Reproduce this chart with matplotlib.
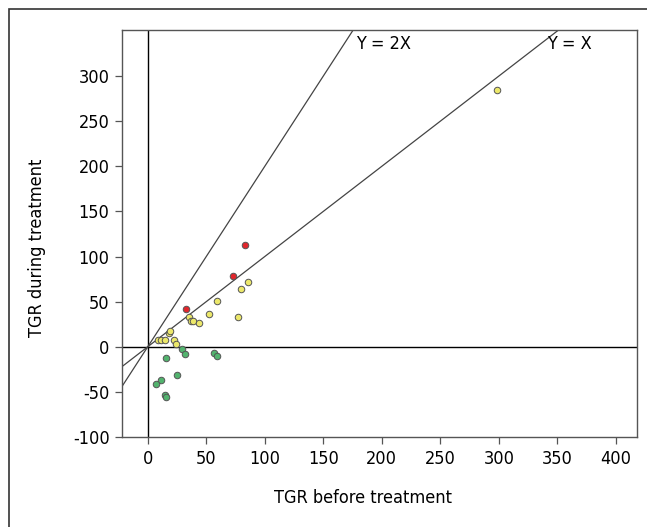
import matplotlib
matplotlib.use("Agg")
import matplotlib.pyplot as plt
from matplotlib.patches import Rectangle

# Data: (TGR before, TGR during)
red_x = [83, 73, 33]
red_y = [113, 78, 42]
yellow_x = [86, 80, 59, 77, 52, 35, 37, 39, 44, 18, 19, 9, 11, 15, 22, 24, 298]
yellow_y = [72, 64, 51, 33, 36, 33, 29, 29, 26, 15, 18, 8, 7, 8, 7, 3, 285]
green_x = [29, 32, 57, 59, 16, 25, 11, 7, 15, 16]
green_y = [-2, -8, -7, -10, -13, -31, -37, -41, -53, -56]

x_ticks = [0, 50, 100, 150, 200, 250, 300, 350, 400]
y_ticks = [-100, -50, 0, 50, 100, 150, 200, 250, 300]
slopes = [2, 1]
slope_labels = ["Y = 2X", "Y = X"]
slope_label_x = [178, 341]

plt.rcParams["font.family"] = ["DejaVu Sans"]
plt.rcParams["font.stretch"] = "condensed"
plt.rcParams["axes.unicode_minus"] = False

W, H = 647, 527
fig = plt.figure(figsize=(W / 100, H / 100), dpi=100)

# outer frame
fig.patches.append(Rectangle((9 / W, -0.05), 1.2, 1 - 9 / H + 0.05, transform=fig.transFigure,
                             fill=False, edgecolor="#333333", linewidth=1.2))

ax = fig.add_axes([122 / W, 1 - 437 / H, (637 - 122) / W, (437 - 30) / H])
xmin, xmax = -22, 418
ymin, ymax = -100, 351
ax.set_xlim(xmin, xmax)
ax.set_ylim(ymin, ymax)

for s in ax.spines.values():
    s.set_color("#555555")
    s.set_linewidth(1.0)

ax.axhline(0, color="black", lw=1.0, zorder=1)
ax.axvline(0, color="black", lw=1.0, zorder=1)
for m in slopes:
    ax.plot([xmin, xmax], [m * xmin, m * xmax], color="#444444", lw=0.9, zorder=1)

for lbl, lx in zip(slope_labels, slope_label_x):
    ax.text(lx, 335, lbl, fontsize=13, va="center", ha="left", color="black")

kw = dict(s=22, edgecolors="#555555", linewidths=0.7, zorder=3)
ax.scatter(yellow_x, yellow_y, c="#ece86a", **kw)
ax.scatter(green_x, green_y, c="#52b36e", **kw)
ax.scatter(red_x, red_y, c="#e0262c", **kw)

ax.set_xticks(x_ticks)
ax.set_yticks(y_ticks)
ax.tick_params(axis="both", direction="out", length=5, width=0.9, color="#555555",
               labelsize=13, pad=4)
ax.set_xlabel("TGR before treatment", fontsize=13)
ax.set_ylabel("TGR during treatment", fontsize=13)
ax.xaxis.set_label_coords(0.468, -0.127)
ax.yaxis.set_label_coords(-0.147, 0.465)

fig.savefig("out.png", dpi=100)
